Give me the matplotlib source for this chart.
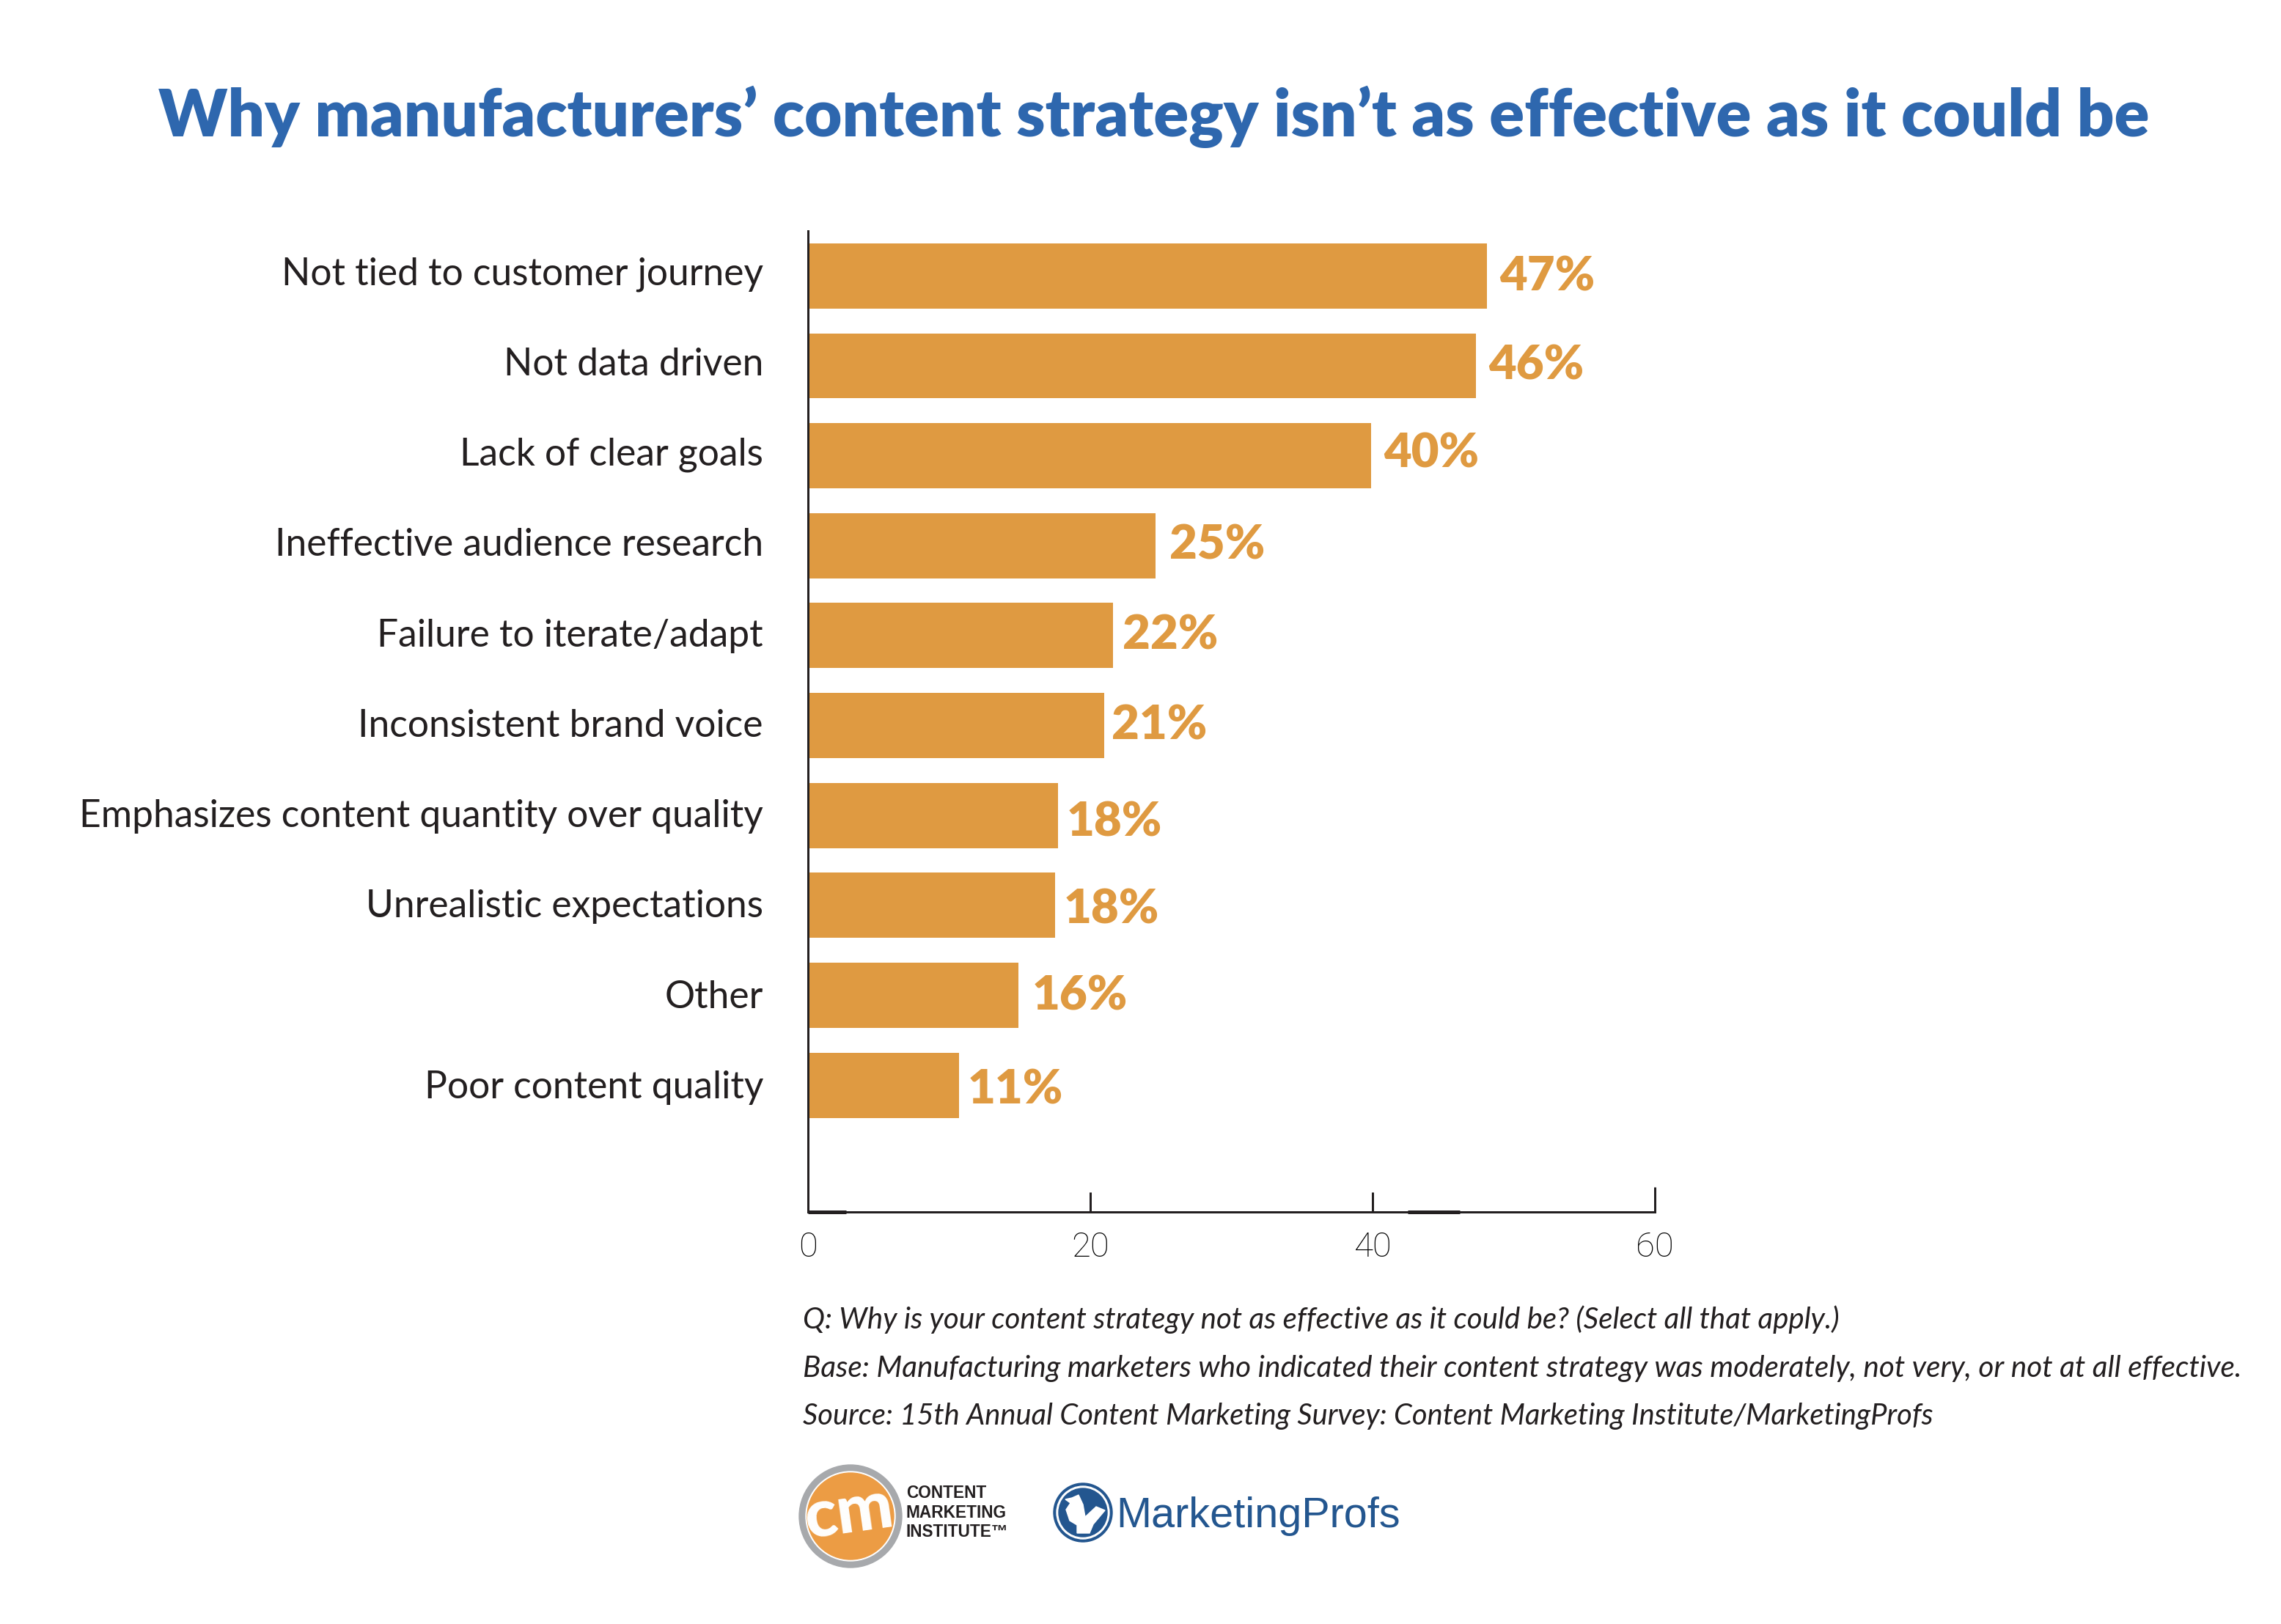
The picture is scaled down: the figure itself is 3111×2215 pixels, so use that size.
import matplotlib
matplotlib.use("Agg")
import matplotlib.pyplot as plt
from matplotlib.patches import Circle, Polygon
from matplotlib.transforms import ScaledTranslation

plt.rcParams['font.family'] = ['Lato', 'DejaVu Sans']

#Data
categories = ['Not tied to customer journey', 'Not data driven', 'Lack of clear goals',
              'Ineffective audience research', 'Failure to iterate/adapt', 'Inconsistent brand voice',
              'Emphasizes content quantity over quality', 'Unrealistic expectations', 'Other',
              'Poor content quality']
bar_values = [48.1, 47.3, 39.9, 24.6, 21.6, 21.0, 17.7, 17.5, 14.9, 10.7]
value_labels = ['47%', '46%', '40%', '25%', '22%', '21%', '18%', '18%', '16%', '11%']
label_gaps = [0.9, 0.9, 0.9, 1.0, 0.7, 0.5, 0.6, 0.6, 1.0, 0.6]
label_dy = [0.01, 0.0, -0.02, 0.0, 0.0, 0.0, 0.08, 0.05, 0.01, 0.06]
x_ticks = [0, 20, 40, 60]
title = 'Why manufacturers\u2019 content strategy isn\u2019t as effective as it could be'
footnotes = ['Q: Why is your content strategy not as effective as it could be? (Select all that apply.)',
             'Base: Manufacturing marketers who indicated their content strategy was moderately, not very, or not at all effective.',
             'Source: 15th Annual Content Marketing Survey: Content Marketing Institute/MarketingProfs']
note_sizes = [29.0, 29.2, 28.7]

W, H = 3111, 2215
orange = '#DF9A41'
blue = '#2E67AE'
dark = '#231F20'
px = 72 / 100  #points per pixel at dpi 100

fig = plt.figure(figsize=(W / 100, H / 100), dpi=100, facecolor='white')

#Chart axes, placed in pixels
ax_l, ax_r, ax_t, ax_b = 1102, 2257, 315, 1653
y_bottom = 10.41
ax = fig.add_axes([ax_l / W, 1 - ax_b / H, (ax_r - ax_l) / W, (ax_b - ax_t) / H])
ypos = list(range(len(categories)))
ax.barh(ypos, bar_values, height=0.725, color=orange, zorder=2)
ax.set_xlim(0, 60)
ax.set_ylim(y_bottom, -0.5)

for s in ['top', 'right']:
    ax.spines[s].set_visible(False)
for s in ['left', 'bottom']:
    ax.spines[s].set_linewidth(3 * px)
    ax.spines[s].set_color(dark)

ax.set_yticks(ypos)
ax.set_yticklabels(categories, fontsize=37.1, color=dark)
ax.tick_params(axis='y', length=0, pad=61 * px)
#Baseline aligned labels, the original drifts slightly against the bars
for i, t in enumerate(ax.get_yticklabels()):
    t.set_verticalalignment('baseline')
    t.set_transform(t.get_transform() + ScaledTranslation(0, -(12 + i * 0.67) / 100, fig.dpi_scale_trans))

ax.set_xticks(x_ticks)
ax.set_xticklabels([str(v) for v in x_ticks], fontsize=34, family='Roboto', fontweight='light', color='black')
ax.tick_params(axis='x', direction='in', length=27 * px, width=3 * px, color=dark, pad=19)
ax.xaxis.get_major_ticks()[0].tick1line.set_visible(False)
ax.xaxis.get_major_ticks()[-1].tick1line.set_markersize(34 * px)

#Thicker stubs on the baseline, as in the original artwork
ax.plot([0, 2.7], [y_bottom, y_bottom], color=dark, lw=5 * px, clip_on=False, solid_capstyle='butt', zorder=3)
ax.plot([42.5, 46.2], [y_bottom, y_bottom], color=dark, lw=5 * px, clip_on=False, solid_capstyle='butt', zorder=3)

for y, v, lab, gap, dy in zip(ypos, bar_values, value_labels, label_gaps, label_dy):
    ax.text(v + gap, y + dy, lab, color=orange, fontsize=47, fontweight='heavy', va='center', ha='left')

#Overlay in image pixels for title, notes and logos
ov = fig.add_axes([0, 0, 1, 1], facecolor='none')
ov.set_xlim(0, W)
ov.set_ylim(H, 0)
ov.axis('off')

ov.text(W / 2 + 18, 186, title, color=blue, fontsize=63.9, fontweight='heavy', ha='center', va='baseline')

for y, note, size in zip([1812, 1878, 1943], footnotes, note_sizes):
    ov.text(1095, y, note, color=dark, fontsize=size, style='italic', ha='left', va='baseline')

#Content Marketing Institute logo
cm_x, cm_y = 1160, 2068
ov.add_patch(Circle((cm_x, cm_y), 70, color='#A7A9AC'))
ov.add_patch(Circle((cm_x, cm_y), 61, color='white'))
ov.add_patch(Circle((cm_x, cm_y), 59, color='#EC9C44'))
ov.text(cm_x - 2, cm_y - 4, 'cm', color='white', fontsize=66, fontweight='black', ha='center', va='center', rotation=8)
for y, line in zip([2043, 2070, 2096], ['CONTENT', 'MARKETING', 'INSTITUTE\u2122']):
    ov.text(1236, y, line, color=dark, fontsize=16.3, fontweight='bold', family='Liberation Sans',
            ha='left', va='baseline')

#MarketingProfs logo
logo_blue = '#23568F'
cx, cy = 1477, 2063
ov.add_patch(Circle((cx, cy), 40, color=logo_blue))
ov.add_patch(Circle((cx, cy), 36, color='white'))
ov.add_patch(Circle((cx, cy), 33, color=logo_blue))
bird = [(-24, -18), (-15, -20), (-6, -24), (0, -11), (3, 6), (18, -8), (30, -3), (14, 16), (9, 28),
        (-8, 28), (-8, 17), (-18, 11), (-23, -4), (-17, -13)]
ov.add_patch(Polygon([(cx + a, cy + b) for a, b in bird], closed=True, color='white'))
ov.text(1522, 2083, 'MarketingProfs', color=logo_blue, fontsize=41.5, family='Liberation Sans',
        ha='left', va='baseline')

fig.savefig('out.png', dpi=100, facecolor='white')
